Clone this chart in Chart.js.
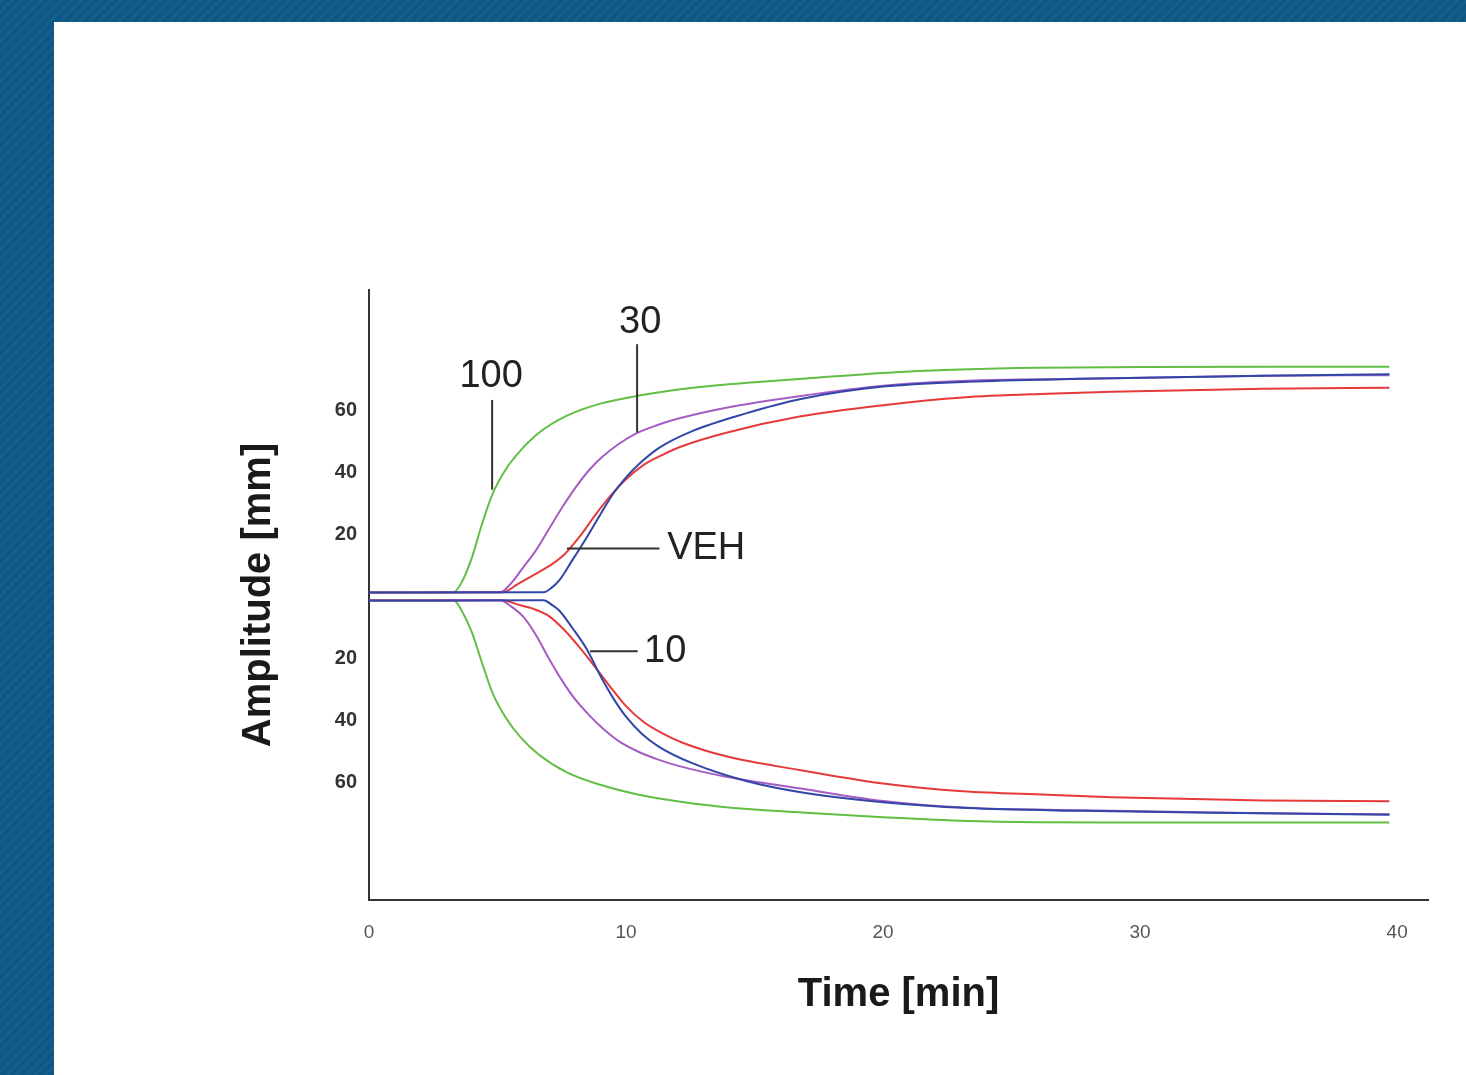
<!DOCTYPE html>
<html>
<head>
<meta charset="utf-8">
<script src="https://cdn.jsdelivr.net/npm/chart.js@4.4.0/dist/chart.umd.min.js"></script>
<style>
html, body { margin: 0; width: 1466px; height: 1075px; overflow: hidden; }
body {
    background-color: #0d5785;
    background-image: repeating-linear-gradient(135deg, rgba(255,255,255,0.035) 0 3px, rgba(0,0,0,0) 3px 7px);
}
#panel { position: absolute; left: 54px; top: 22px; right: 0; bottom: 0; background: #fff; }
#c { position: absolute; left: 0; top: 0; }
</style>
</head>
<body>
<div id="panel"></div>
<canvas id="c" width="1466" height="1075"></canvas>
<script>
// Zaman (dk) ve genlik (mm) okumaları, üst ve alt dal ayrı
const time10 = [0, 6.8, 7.1, 7.4, 7.9, 8.5, 9.0, 9.5, 10.0, 10.6, 11.3, 12.6, 14.6, 16.8, 20, 23.3, 27.7, 34.8, 39.7];
const up10   = [1.3, 1.4, 2.8, 5.2, 11.6, 19.5, 26.5, 33.2, 38.5, 43.5, 48.1, 53.5, 59, 63.8, 67.8, 69.4, 70.3, 71.3, 71.8];
const down10 = [-1.3, -1.2, -2.6, -4.5, -10, -17.4, -25.6, -32.8, -38.8, -44.2, -48.6, -53.9, -59.4, -63.2, -66.4, -68.3, -69.2, -70, -70.5];

const time30 = [0, 5.1, 5.5, 6.0, 6.5, 7.0, 7.5, 8.0, 8.6, 9.1, 9.7, 10.4, 11.2, 12, 13.9, 16.8, 20, 23.3, 27.7, 34.8, 39.7];
const up30   = [1.3, 1.4, 4, 9.4, 15, 21.8, 28.6, 34.8, 41.2, 45.3, 49.2, 52.7, 55.3, 57.4, 61, 64.8, 68.1, 69.7, 70.3, 71.3, 71.5];
const down30 = [-1.3, -1.2, -3, -6.5, -12.5, -20, -27, -33, -38.6, -42.6, -46.6, -49.8, -52.5, -54.6, -58.2, -62, -66, -68.2, -69, -70, -70.3];

const time100 = [0, 3.3, 3.6, 4.0, 4.4, 4.8, 5.3, 5.9, 6.6, 7.7, 9, 10.5, 12.6, 15, 17, 20, 23, 26, 30, 35, 39.7];
const up100   = [1.3, 1.5, 4.5, 12.5, 23.5, 33, 40.8, 47.2, 52.8, 58.4, 62.3, 64.9, 67.4, 69.2, 70.4, 72.2, 73.3, 73.9, 74.1, 74.2, 74.2];
const down100 = [-1.3, -1.3, -4.5, -11.5, -21.5, -31, -38.8, -45.5, -51, -56.8, -60.8, -64, -66.8, -68.8, -69.8, -71.3, -72.4, -72.9, -73, -73, -73];

const timeVeh = [0, 5.2, 5.8, 6.4, 7.0, 7.6, 8.2, 8.8, 9.4, 10.0, 10.7, 11.4, 12.2, 13.9, 16.8, 20, 23.1, 26.4, 28.9, 34.8, 39.7];
const upVeh   = [1.3, 1.4, 4.1, 6.9, 9.8, 13.6, 19.4, 26.3, 32.6, 37.9, 42.6, 45.7, 48.6, 52.9, 58.2, 61.8, 64.3, 65.5, 66.1, 67.1, 67.4];
const downVeh = [-1.3, -1.2, -2.6, -4, -6.3, -10.8, -16.5, -22.8, -29.3, -35.4, -40.6, -44.1, -47.2, -51.6, -56.1, -60.4, -62.9, -64, -64.8, -65.9, -66.1];

const xTicks = [0, 10, 20, 30, 40];
const yTicks = [-60, -40, -20, 20, 40, 60];

const renk = { '10': '#3246a8', '30': '#a55cc4', '100': '#62be45', 'VEH': '#e63a3a' };

const pts = (t, a) => t.map((x, i) => ({ x, y: a[i] }));

function seri(etiket, t, a) {
    return {
        label: etiket,
        data: pts(t, a),
        borderColor: renk[etiket],
        borderWidth: 2,
        pointRadius: 0,
        fill: false,
        cubicInterpolationMode: 'monotone'
    };
}

// Etiketler ve çizgiler (veri koordinatında)
const notlar = [
    { text: '100', x: 4.75, y: 71, align: 'center', line: [[4.79, 63.5], [4.79, 34.5]] },
    { text: '30', x: 10.55, y: 88.4, align: 'center', line: [[10.43, 81.5], [10.43, 53]] },
    { text: 'VEH', x: 11.6, y: 15.5, align: 'left', line: [[7.7, 15.5], [11.3, 15.5]] },
    { text: '10', x: 10.7, y: -17.7, align: 'left', line: [[8.6, -17.7], [10.45, -17.7]] }
];

const notPlugin = {
    id: 'notlar',
    afterDatasetsDraw(chart) {
        const { ctx, scales: { x, y } } = chart;
        ctx.save();
        ctx.strokeStyle = '#333';
        ctx.lineWidth = 2;
        ctx.fillStyle = '#222';
        ctx.font = '38px "Liberation Sans", Arial, sans-serif';
        ctx.textBaseline = 'middle';
        notlar.forEach(n => {
            ctx.beginPath();
            ctx.moveTo(x.getPixelForValue(n.line[0][0]), y.getPixelForValue(n.line[0][1]));
            ctx.lineTo(x.getPixelForValue(n.line[1][0]), y.getPixelForValue(n.line[1][1]));
            ctx.stroke();
            ctx.textAlign = n.align;
            ctx.fillText(n.text, x.getPixelForValue(n.x), y.getPixelForValue(n.y));
        });
        ctx.restore();
    }
};

new Chart(document.getElementById('c'), {
    type: 'line',
    data: {
        datasets: [
            seri('10', time10, up10), seri('10', time10, down10),
            seri('30', time30, up30), seri('30', time30, down30),
            seri('VEH', timeVeh, upVeh), seri('VEH', timeVeh, downVeh),
            seri('100', time100, up100), seri('100', time100, down100)
        ]
    },
    options: {
        responsive: false,
        animation: false,
        layout: { padding: { left: 226, top: 290, right: 38, bottom: 40 } },
        plugins: { legend: { display: false }, tooltip: { enabled: false } },
        scales: {
            x: {
                type: 'linear', min: 0, max: 41.2,
                afterFit: (s) => { s.height = 135; },
                afterBuildTicks: (s) => { s.ticks = xTicks.map(v => ({ value: v })); },
                grid: { display: false, drawTicks: false },
                border: { color: '#333', width: 2 },
                ticks: { padding: 21, color: '#555', font: { family: '"Liberation Sans", Arial, sans-serif', size: 19 } },
                title: { display: true, text: 'Time [min]', color: '#1a1a1a', padding: { top: 16, bottom: 16 },
                         font: { family: '"Liberation Sans", Arial, sans-serif', size: 40, weight: 'bold' } }
            },
            y: {
                type: 'linear', min: -98, max: 99,
                afterFit: (s) => { s.width = 143; },
                afterBuildTicks: (s) => { s.ticks = yTicks.map(v => ({ value: v })); },
                grid: { display: false, drawTicks: false },
                border: { color: '#333', width: 2 },
                ticks: { padding: 12, color: '#333', callback: (v) => Math.abs(v),
                         font: { family: '"Liberation Sans", Arial, sans-serif', size: 20, weight: 'bold' } },
                title: { display: true, text: 'Amplitude [mm]', color: '#1a1a1a', padding: { top: 9 },
                         font: { family: '"Liberation Sans", Arial, sans-serif', size: 40, weight: 'bold' } }
            }
        }
    },
    plugins: [notPlugin]
});
</script>
</body>
</html>
